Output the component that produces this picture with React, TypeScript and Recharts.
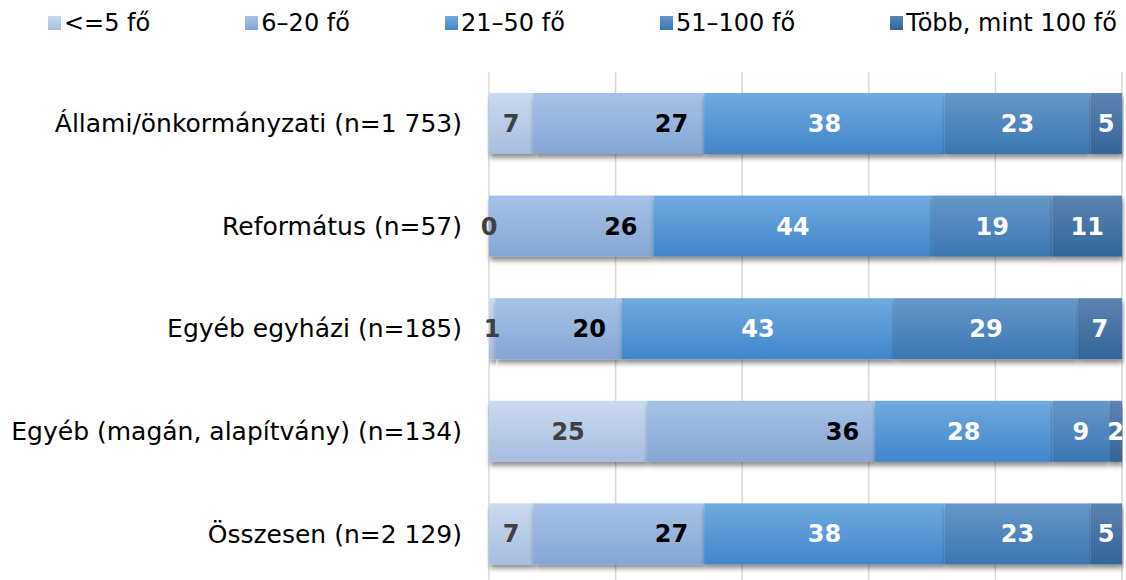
import React from "react";
import { BarChart, Bar, XAxis, YAxis, CartesianGrid, LabelList } from "recharts";

const categories = [
  "Állami/önkormányzati (n=1 753)",
  "Református (n=57)",
  "Egyéb egyházi (n=185)",
  "Egyéb (magán, alapítvány) (n=134)",
  "Összesen (n=2 129)",
];
const seriesNames = ["<=5 fő", "6–20 fő", "21–50 fő", "51–100 fő", "Több, mint 100 fő"];
const upTo5 = [7, 0, 1, 25, 7];
const from6to20 = [27, 26, 20, 36, 27];
const from21to50 = [38, 44, 43, 28, 38];
const from51to100 = [23, 19, 29, 9, 23];
const over100 = [5, 11, 7, 2, 5];
const xTicks = [0, 20, 40, 60, 80, 100];
const boundaryTicks = [0, 1, 2, 3, 4, 5];

const seriesValues = [upTo5, from6to20, from21to50, from51to100, over100];
const keys = ["s1", "s2", "s3", "s4", "s5"];

const data = categories.map((name, i) => {
  const row: Record<string, any> = { name };
  keys.forEach((k, j) => (row[k] = seriesValues[j][i]));
  return row;
});

const gradients = [
  ["#cadaef", "#a7bddf"],
  ["#a6c2e7", "#85a6d5"],
  ["#70aadf", "#4086cb"],
  ["#6697c9", "#3b76b2"],
  ["#5b83b1", "#33659a"],
];
const labelColors = ["#404040", "#000000", "#ffffff", "#ffffff", "#ffffff"];

// no serif faces in the sandbox, DejaVu Sans is the closest in width
const FONT = "'DejaVu Sans', sans-serif";

function ShadowRect(props: any) {
  const { x, y, width, height, fill } = props;
  if (!width || width <= 0) return null;
  return <rect x={x} y={y} width={width} height={height} fill={fill} filter="url(#barShadow)" />;
}

function Legendary() {
  return (
    <div
      style={{
        position: "absolute",
        top: 9,
        left: 48,
        right: 9,
        display: "flex",
        justifyContent: "space-between",
        fontFamily: FONT,
        fontSize: 24,
        color: "#000",
        whiteSpace: "nowrap",
      }}
    >
      {seriesNames.map((n, i) => (
        <div key={n} style={{ display: "flex", alignItems: "center" }}>
          <span
            style={{
              width: 13,
              height: 14,
              marginRight: 3,
              background: `linear-gradient(${gradients[i][0]}, ${gradients[i][1]})`,
              display: "inline-block",
            }}
          />
          <span>{n}</span>
        </div>
      ))}
    </div>
  );
}

export default function App() {
  return (
    <div style={{ position: "absolute", left: 0, top: 0, width: 1126, height: 580, overflow: "hidden", background: "#fff" }}>
      <Legendary />
      <BarChart
        width={1126}
        height={600}
        data={data}
        layout="vertical"
        margin={{ top: 72, right: 4, bottom: 15, left: 0 }}
        barSize={61}
      >
        <defs>
          {gradients.map((g, i) => (
            <linearGradient key={i} id={`grad${i}`} x1="0" y1="0" x2="0" y2="1">
              <stop offset="0%" stopColor={g[0]} />
              <stop offset="100%" stopColor={g[1]} />
            </linearGradient>
          ))}
          <filter id="barShadow" x="-5%" y="-20%" width="110%" height="150%">
            <feGaussianBlur in="SourceAlpha" stdDeviation="2.5" />
            <feOffset dx="1" dy="4" result="ob" />
            <feComponentTransfer>
              <feFuncA type="linear" slope="0.45" />
            </feComponentTransfer>
            <feMerge>
              <feMergeNode />
              <feMergeNode in="SourceGraphic" />
            </feMerge>
          </filter>
        </defs>
        <CartesianGrid horizontal={false} stroke="#d9d9d9" strokeWidth={1.5} />
        <XAxis type="number" domain={[0, 100]} ticks={xTicks} hide />
        <YAxis
          yAxisId="cat"
          type="category"
          dataKey="name"
          width={489}
          axisLine={false}
          tickLine={false}
          tickSize={0}
          tickMargin={27}
          tick={{ fontFamily: FONT, fontSize: 25, fill: "#000" }}
        />
        <YAxis
          yAxisId="edge"
          type="number"
          domain={[0, 5]}
          ticks={boundaryTicks}
          reversed
          width={0}
          tick={false}
          tickSize={9}
          stroke="#c8c8c8"
          strokeWidth={2}
        />
        {keys.map((k, i) => (
          <Bar
            key={k}
            dataKey={k}
            yAxisId="cat"
            stackId="a"
            name={seriesNames[i]}
            fill={`url(#grad${i})`}
            shape={<ShadowRect />}
            isAnimationActive={false}
          >
            <LabelList
              dataKey={k}
              position={i === 1 ? "insideRight" : "center"}
              offset={i === 1 ? 16 : 5}
              fill={labelColors[i]}
              style={{ fontFamily: FONT, fontSize: 24, fontWeight: "bold", fill: labelColors[i] }}
            />
          </Bar>
        ))}
      </BarChart>
    </div>
  );
}
